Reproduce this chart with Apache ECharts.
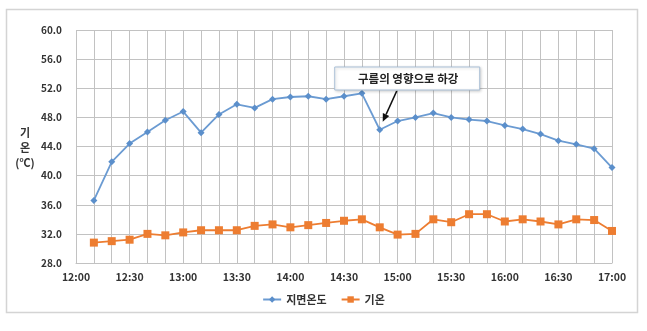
<!DOCTYPE html>
<html>
<head>
<meta charset="utf-8">
<script src="https://cdn.jsdelivr.net/npm/echarts@6/dist/echarts.min.js"></script>
<style>
  html, body { margin: 0; padding: 0; background: #ffffff; }
  #chart { width: 647px; height: 331px; }
</style>
</head>
<body>
<div id="chart"></div>
<script>
// Observation times (every 10 minutes)
const times = ['12:10','12:20','12:30','12:40','12:50','13:00','13:10','13:20','13:30','13:40',
               '13:50','14:00','14:10','14:20','14:30','14:40','14:50','15:00','15:10','15:20',
               '15:30','15:40','15:50','16:00','16:10','16:20','16:30','16:40','16:50','17:00'];
// Ground surface temperature (°C)
const groundTemp = [36.6, 41.9, 44.4, 46.0, 47.6, 48.8, 45.9, 48.4, 49.8, 49.3,
                    50.5, 50.8, 50.9, 50.5, 50.9, 51.3, 46.3, 47.5, 48.0, 48.6,
                    48.0, 47.7, 47.5, 46.9, 46.4, 45.7, 44.8, 44.3, 43.7, 41.1];
// Air temperature (°C)
const airTemp = [30.8, 31.0, 31.2, 32.0, 31.8, 32.2, 32.5, 32.5, 32.5, 33.1,
                 33.3, 32.9, 33.2, 33.5, 33.8, 34.0, 32.9, 31.9, 32.0, 34.0,
                 33.6, 34.7, 34.7, 33.7, 34.0, 33.7, 33.3, 34.0, 33.9, 32.4];
// Time axis labels (every 30 minutes)
const tickLabels = ['12:00','12:30','13:00','13:30','14:00','14:30','15:00','15:30','16:00','16:30','17:00'];
const seriesNames = ['지면온도', '기온'];
const noteText = '구름의 영향으로 하강';
const notePointIndex = 16; // 14:50 drop

const START = 12 * 60;
function toMinutes(t) {
  const p = t.split(':');
  return (+p[0]) * 60 + (+p[1]) - START;
}
const xs = times.map(toMinutes);

const font = '"Noto Sans CJK KR", "Noto Sans", sans-serif';
const gridColor = '#c2c2c2';

const chart = echarts.init(document.getElementById('chart'), null, { renderer: 'canvas' });

const option = {
  animation: false,
  backgroundColor: '#ffffff',
  grid: { left: 76, right: 35, top: 30, bottom: 68, containLabel: false },
  legend: {
    bottom: 21,
    left: 'center',
    itemWidth: 18,
    itemHeight: 8,
    itemGap: 14,
    textStyle: { fontFamily: font, fontSize: 11, fontWeight: 'bold', color: '#333333' },
    data: seriesNames
  },
  xAxis: {
    type: 'value',
    min: 0,
    max: 300,
    interval: 10,
    axisLine: { show: true, lineStyle: { color: gridColor } },
    axisTick: { show: false },
    splitLine: { show: true, lineStyle: { color: gridColor, width: 1 } },
    axisLabel: {
      margin: 9,
      fontFamily: font, fontSize: 10.5, fontWeight: 'bold', color: '#333333',
      showMinLabel: true, showMaxLabel: true,
      formatter: function (v) {
        return v % 30 === 0 ? tickLabels[v / 30] : '';
      }
    }
  },
  yAxis: {
    type: 'value',
    min: 28,
    max: 60,
    interval: 4,
    axisLine: { show: false },
    axisTick: { show: false },
    splitLine: { show: true, lineStyle: { color: gridColor, width: 1 } },
    axisLabel: {
      margin: 14,
      fontFamily: font, fontSize: 10, fontWeight: 'bold', color: '#333333',
      formatter: function (v) { return v.toFixed(1); }
    }
  },
  series: [
    {
      name: seriesNames[0],
      type: 'line',
      data: xs.map((x, i) => [x, groundTemp[i]]),
      symbol: 'diamond',
      symbolSize: 7,
      lineStyle: { color: '#6b9bd2', width: 1.8 },
      itemStyle: { color: '#5b8fcb' },
      z: 3
    },
    {
      name: seriesNames[1],
      type: 'line',
      data: xs.map((x, i) => [x, airTemp[i]]),
      symbol: 'rect',
      symbolSize: 8,
      lineStyle: { color: '#ed7d31', width: 1.8 },
      itemStyle: { color: '#ed7d31' },
      z: 3
    }
  ]
};
chart.setOption(option);

// Annotation: note box with arrow pointing at the drop
const p = chart.convertToPixel({ gridIndex: 0 }, [xs[notePointIndex], groundTemp[notePointIndex]]);
const boxX = p[0] - 45, boxY = 67, boxW = 145, boxH = 23;
const tipX = p[0] + 3, tipY = p[1] - 8;
const tailX = p[0] + 17, tailY = boxY + boxH + 1;
const ang = Math.atan2(tipY - tailY, tipX - tailX);
const ah = 8, aw = 3.5;
const bx = tipX - ah * Math.cos(ang), by = tipY - ah * Math.sin(ang);
const nx = -Math.sin(ang) * aw, ny = Math.cos(ang) * aw;

chart.setOption({
  graphic: [
    {
      type: 'rect',
      shape: { x: 6.5, y: 9.5, width: 631, height: 303 },
      style: { fill: 'none', stroke: '#d4d4d4', lineWidth: 1.5 },
      silent: true, z: 0
    },
    {
      type: 'rect',
      shape: { x: boxX, y: boxY, width: boxW, height: boxH },
      style: {
        fill: '#ffffff', stroke: '#a9bfd6', lineWidth: 1,
        shadowBlur: 3, shadowColor: 'rgba(0,0,0,0.18)', shadowOffsetX: 1, shadowOffsetY: 1
      },
      z: 10
    },
    {
      type: 'text',
      x: boxX + boxW / 2 + 1, y: boxY + boxH / 2,
      style: {
        text: noteText, fontFamily: font, fontSize: 11.5, fontWeight: 'bold',
        fill: '#222222', align: 'center', verticalAlign: 'middle'
      },
      z: 11
    },
    {
      type: 'line',
      shape: { x1: tailX, y1: tailY, x2: bx, y2: by },
      style: { stroke: '#111111', lineWidth: 1.6 },
      z: 10
    },
    {
      type: 'polygon',
      shape: { points: [[tipX, tipY], [bx + nx, by + ny], [bx - nx, by - ny]] },
      style: { fill: '#111111' },
      z: 10
    },
    {
      type: 'text',
      x: 25, y: 148,
      style: {
        text: '기\n온\n(℃)', fontFamily: font, fontSize: 11, fontWeight: 'bold',
        fill: '#333333', align: 'center', verticalAlign: 'middle', lineHeight: 15
      },
      z: 5
    }
  ]
});
</script>
</body>
</html>
